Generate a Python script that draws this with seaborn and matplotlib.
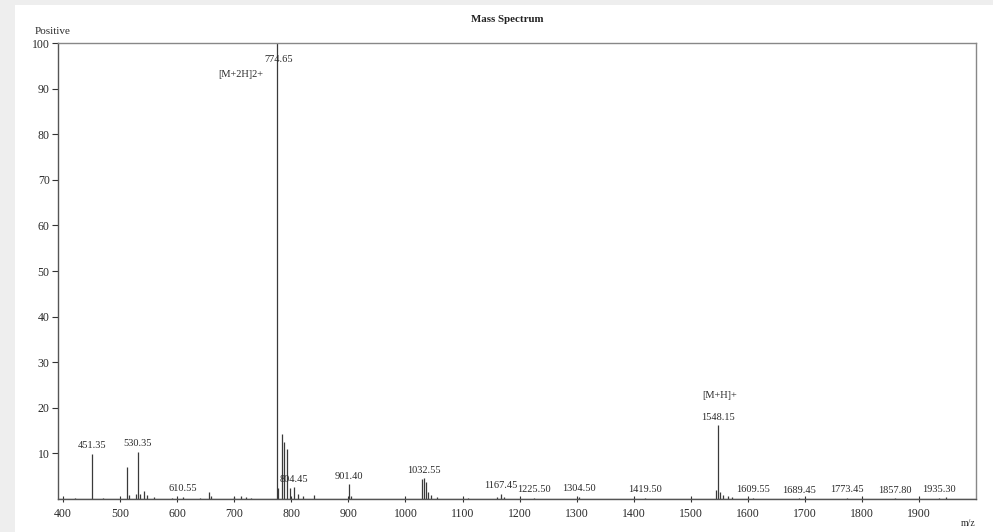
import numpy as np
import pandas as pd
import matplotlib
matplotlib.use("Agg")
import matplotlib.pyplot as plt
from matplotlib.ticker import MultipleLocator
import seaborn as sns

# ---- data ----
mz = [420, 451.35, 470, 512.3, 516, 527, 530.35, 535, 541, 547, 560, 590, 610.55,
      640, 655, 660, 700, 712, 720, 730, 774.65, 777, 783.5, 787.5, 792.5, 797,
      804.45, 812, 820, 840, 901.40, 905, 1029, 1032.55, 1036, 1040, 1045, 1055,
      1110, 1160, 1167.45, 1172, 1225.50, 1304.50, 1419.50, 1545, 1548.15, 1552,
      1557, 1565, 1572, 1609.55, 1689.45, 1773.45, 1857.80, 1935.30, 1948]
intensity = [0.3, 9.9, 0.3, 7.0, 0.8, 1.0, 10.4, 1.2, 1.8, 0.8, 0.4, 0.3, 0.5,
             0.3, 1.5, 0.6, 0.4, 0.6, 0.5, 0.3, 100, 2.5, 14.2, 12.5, 11.0, 2.5,
             2.6, 1.0, 0.6, 0.8, 3.2, 0.6, 4.3, 4.5, 3.8, 1.5, 0.8, 0.4,
             0.3, 0.5, 1.2, 0.5, 0.3, 0.5, 0.3, 2.0, 16.2, 1.5,
             0.8, 0.7, 0.4, 0.3, 0.2, 0.3, 0.2, 0.3, 0.4]

label_mz = [451.35, 530.35, 610.55, 804.45, 901.40, 1032.55, 1167.45, 1225.50,
            1304.50, 1419.50, 1548.15, 1609.55, 1689.45, 1773.45, 1857.80, 1935.30]
label_text = ["451.35", "530.35", "610.55", "804.45", "901.40", "1032.55", "1167.45",
              "1225.50", "1304.50", "1419.50", "1548.15", "1609.55", "1689.45",
              "1773.45", "1857.80", "1935.30"]

x_ticks = list(range(400, 2000, 100))
y_ticks = list(range(10, 101, 10))

df = pd.DataFrame({"mz": mz, "intensity": intensity})

# ---- style ----
sns.set_style("white")
plt.rcParams["font.family"] = ["Liberation Serif", "DejaVu Serif"]
line_col = "#3a3a3a"
txt_col = "#2a2a2a"

fig = plt.figure(figsize=(9.93, 5.32), dpi=100, facecolor="white")
# grey page border (left and top strips)
fig.patches.append(plt.Rectangle((0, 0), 15 / 993, 1, transform=fig.transFigure,
                                 facecolor="#eeeeee", edgecolor="none", zorder=-10))
fig.patches.append(plt.Rectangle((0, 1 - 5 / 532), 1, 5 / 532, transform=fig.transFigure,
                                 facecolor="#eeeeee", edgecolor="none", zorder=-10))
ax = fig.add_axes([58 / 993, 1 - 499 / 532, (976 - 58) / 993, (499 - 43) / 532])
ax.set_facecolor("white")

# stems
ax.vlines(df["mz"], 0, df["intensity"], color=line_col, linewidth=0.9)
sns.lineplot(x=[391, 2000], y=[0, 0], ax=ax, color=line_col, linewidth=0.9)

ax.set_xlim(391, 2000)
ax.set_ylim(0, 100)
ax.set_xticks(x_ticks)
ax.set_xticklabels([str(v) for v in x_ticks])
ax.set_yticks(y_ticks)
ax.set_yticklabels([str(v) for v in y_ticks])
ax.xaxis.set_minor_locator(MultipleLocator(20))
ax.yaxis.set_minor_locator(MultipleLocator(1))
ax.tick_params(axis="both", which="major", labelsize=8.5, colors="#333333",
               labelcolor=txt_col, length=4, width=0.8, pad=2)
ax.tick_params(axis="x", which="major", direction="inout", length=5, pad=4)
ax.tick_params(axis="x", which="minor", direction="inout", length=2.5, width=0.6,
               colors="#555555")
ax.tick_params(axis="y", which="minor", direction="inout", length=3, width=0.6,
               colors="#555555")
ax.tick_params(left=True, bottom=True)
for s in ax.spines.values():
    s.set_visible(True)
    s.set_color("#555555")
    s.set_linewidth(1.0)
ax.spines["top"].set_color("#888888")
ax.spines["right"].set_color("#888888")
ax.set_xlabel("")
ax.set_ylabel("")

# peak labels
lookup = dict(zip(mz, intensity))
for m, t in zip(label_mz, label_text):
    ax.annotate(t, xy=(m, lookup[m]), xytext=(0, 2.5), textcoords="offset points",
                ha="center", va="bottom", fontsize=7.5, color=txt_col)

ax.text(777, 96.3, "774.65", ha="center", va="center", fontsize=7.5, color=txt_col)
ax.text(750, 93, "[M+2H]2+", ha="right", va="center", fontsize=7.5, color=txt_col)
ax.text(1521, 22.8, "[M+H]+", ha="left", va="center", fontsize=7.5, color=txt_col)

# page texts
fig.text(507 / 993, 1 - 19 / 532, "Mass Spectrum", ha="center", va="center",
         fontsize=7.8, fontweight="bold", color="#222222")
fig.text(35 / 993, 1 - 32 / 532, "Positive", ha="left", va="center",
         fontsize=8, color=txt_col)
fig.text(968 / 993, 1 - 524 / 532, "m/z", ha="center", va="center",
         fontsize=7, color=txt_col)

fig.savefig("out.png", dpi=100, facecolor=fig.get_facecolor())
